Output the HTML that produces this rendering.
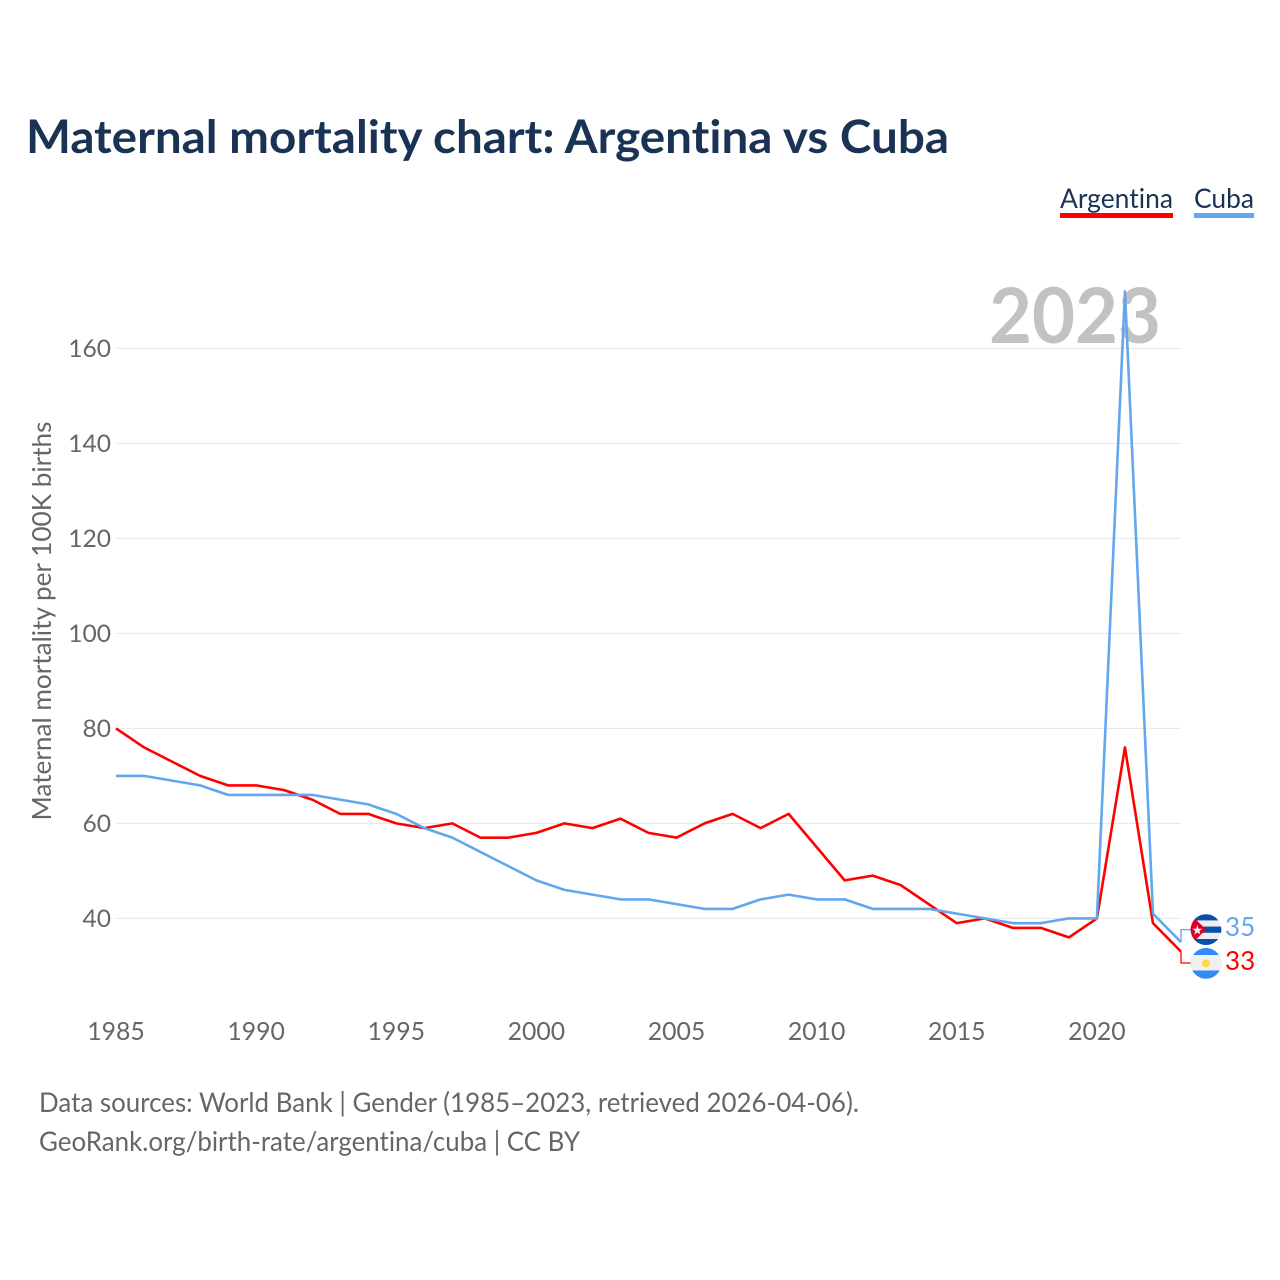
<!DOCTYPE html>
<html lang="en">
<head>
<meta charset="utf-8">
<title>Maternal mortality chart: Argentina vs Cuba</title>
<style>
html,body{margin:0;padding:0;background:#fff;width:1280px;height:1280px;overflow:hidden}
svg{display:block}
text{font-family:"Lato","Carlito","Liberation Sans",sans-serif;font-variant-ligatures:none}
</style>
</head>
<body>
<svg id="chart" xmlns="http://www.w3.org/2000/svg" width="1280" height="1280" viewBox="0 0 1280 1280">
  <rect x="0" y="0" width="1280" height="1280" fill="#fff"/>
  <text x="26" y="153" font-size="46" font-weight="700" fill="#1a3355" textLength="923" lengthAdjust="spacingAndGlyphs">Maternal mortality chart: Argentina vs Cuba</text>

  <g>
    <g>
      <text x="1060" y="208" font-size="27" fill="#1a3355" textLength="113" lengthAdjust="spacingAndGlyphs">Argentina</text>
      <rect x="1060" y="213" width="113" height="5" fill="#ff0000"/>
    </g>
    <g>
      <text x="1194" y="208" font-size="27" fill="#1a3355" textLength="60" lengthAdjust="spacingAndGlyphs">Cuba</text>
      <rect x="1194" y="213" width="60" height="5" fill="#62a6ee"/>
    </g>
  </g>

  <g id="grid"></g>
  <g id="yticks"></g>
  <g id="xticks"></g>

  <text x="1161" y="343" text-anchor="end" font-size="77" font-weight="700" fill="#c2c2c2" textLength="172" lengthAdjust="spacingAndGlyphs">2023</text>

  <text transform="translate(51,621) rotate(-90)" text-anchor="middle" font-size="26" fill="#666" textLength="399" lengthAdjust="spacingAndGlyphs">Maternal mortality per 100K births</text>

  <g id="series"></g>

  <g>
    <clipPath id="clip-cuba"><circle cx="1206" cy="929.6" r="15.4"/></clipPath>
    <g clip-path="url(#clip-cuba)">
      <rect x="1190" y="914" width="32" height="32" fill="#eeeeee"/>
      <rect x="1190" y="914" width="32" height="6.4" fill="#0a4fae"/>
      <rect x="1190" y="926.6" width="32" height="6.2" fill="#0a4fae"/>
      <rect x="1190" y="939" width="32" height="7" fill="#0a4fae"/>
      <polygon points="1190.6,914.2 1206,929.6 1190.6,945" fill="#d80027"/>
      <text x="1197.3" y="934.5" text-anchor="middle" font-size="13" fill="#eee" style="font-family:'DejaVu Sans',sans-serif">★</text>
    </g>
  </g>
  <g>
    <clipPath id="clip-arg"><circle cx="1206" cy="963.4" r="15.4"/></clipPath>
    <g clip-path="url(#clip-arg)">
      <rect x="1190" y="947" width="32" height="33" fill="#338af3"/>
      <rect x="1190" y="955" width="32" height="15.5" fill="#f0f0f0"/>
      <circle cx="1206" cy="963.4" r="4" fill="#ffda44"/>
    </g>
  </g>

  <text id="value-cuba" x="1225" y="936" font-size="26" fill="#62a6ee"></text>
  <text id="value-argentina" x="1225" y="970" font-size="26" fill="#ff0000"></text>

  <g>
    <text x="39" y="1112" font-size="27" fill="#666" textLength="820" lengthAdjust="spacingAndGlyphs">Data sources: World Bank | Gender (1985–2023, retrieved 2026-04-06).</text>
    <text x="39" y="1151" font-size="27" fill="#666" textLength="541" lengthAdjust="spacingAndGlyphs">GeoRank.org/birth-rate/argentina/cuba | CC BY</text>
  </g>
</svg>
<script>
const years = [1985,1986,1987,1988,1989,1990,1991,1992,1993,1994,1995,1996,1997,1998,1999,2000,2001,2002,2003,2004,2005,2006,2007,2008,2009,2010,2011,2012,2013,2014,2015,2016,2017,2018,2019,2020,2021,2022,2023];
const argentinaValues = [80,76,73,70,68,68,67,65,62,62,60,59,60,57,57,58,60,59,61,58,57,60,62,59,62,55,48,49,47,43,39,40,38,38,36,40,76,39,33];
const cubaValues = [70,70,69,68,66,66,66,66,65,64,62,59,57,54,51,48,46,45,44,44,43,42,42,44,45,44,44,42,42,42,41,40,39,39,40,40,172,41,35];
const yTickLabels = [40,60,80,100,120,140,160];
const xTickLabels = [1985,1990,1995,2000,2005,2010,2015,2020];

const NS = 'http://www.w3.org/2000/svg';
function xScale(year){ return 116 + (year - 1985) * (1181 - 116) / 38; }
function yScale(v){ return 918.4 - (v - 40) * 4.75; }
function make(tag, attrs, parent){
  const el = document.createElementNS(NS, tag);
  for (const k in attrs) el.setAttribute(k, attrs[k]);
  parent.appendChild(el);
  return el;
}
const grid = document.getElementById('grid');
const yticks = document.getElementById('yticks');
const xticks = document.getElementById('xticks');
const series = document.getElementById('series');

yTickLabels.forEach(function(v){
  const line = make('line', {x1:116, x2:1181, y1:yScale(v), y2:yScale(v), stroke:'#e6e6e6', 'stroke-width':1}, grid);
  
  
  const t = make('text', {x:111, y:yScale(v)+8.6, 'text-anchor':'end', 'font-size':24.6, fill:'#666'}, yticks);
  
  
  t.textContent = v;
});
xTickLabels.forEach(function(y){
  const t = make('text', {x:xScale(y), y:1040, 'text-anchor':'middle', 'font-size':24.8, fill:'#666'}, xticks);
  
  
  t.textContent = y;
});

function pathFor(values){
  return values.map(function(v,i){ return (i ? 'L' : 'M') + xScale(years[i]).toFixed(2) + ' ' + yScale(v).toFixed(2); }).join(' ');
}

const cubaLast = cubaValues[cubaValues.length-1];
const argLast = argentinaValues[argentinaValues.length-1];
const xEnd = xScale(years[years.length-1]);

const cubaLead = make('path', {d:'M'+xEnd+' '+yScale(cubaLast)+' V929.6 H1191', fill:'none', stroke:'#62a6ee', 'stroke-width':1.3}, series);


const argLead = make('path', {d:'M'+xEnd+' '+yScale(argLast)+' V963 H1191', fill:'none', stroke:'#ff0000', 'stroke-width':1.3}, series);



const argLine = make('path', {d:pathFor(argentinaValues), fill:'none', stroke:'#ff0000', 'stroke-width':2.6, 'stroke-linejoin':'round'}, series);


const cubaLine = make('path', {d:pathFor(cubaValues), fill:'none', stroke:'#62a6ee', 'stroke-width':2.6, 'stroke-linejoin':'round'}, series);



document.getElementById('value-cuba').textContent = cubaLast;
document.getElementById('value-argentina').textContent = argLast;
</script>
</body>
</html>
